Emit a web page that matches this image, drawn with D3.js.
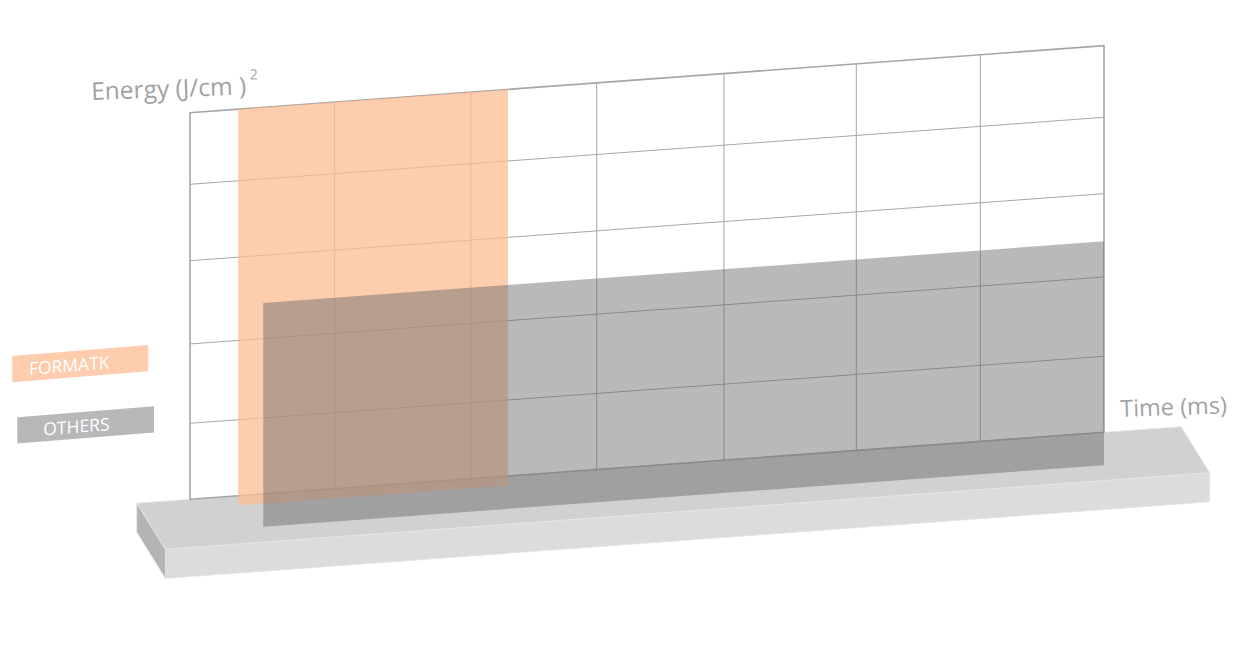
<!DOCTYPE html>
<html>
<head>
<meta charset="utf-8">
<script src="https://cdn.jsdelivr.net/npm/d3@7"></script>
<style>
  html, body { margin: 0; background: #fff; }
  svg { display: block; font-family: 'Open Sans', sans-serif; }
</style>
</head>
<body>
<svg id="chart" width="1236" height="670"></svg>
<script>
//

// grid lines, in axis units (read off the picture, not evenly spaced)
const timeGrid = [0, 1.108, 2.151, 3.115, 4.089, 5.103, 6.053, 7]
const energyGrid = [0, 0.983, 2.009, 3.086, 4.074, 5]

// the two translucent panels
const seriesNames = ['FORMATK', 'OTHERS']
const timeFrom = [0.369, 0.561]
const timeTo = [2.435, 7]
const energyFrom = [-0.125, -0.425]
const energyTo = [5, 2.47]

// the slab the chart stands on
const baseTime = [-0.408, 7.59]

const axisLabels = { energy: 'Energy (J/cm )', energySup: '2', time: 'Time (ms)' }

//

const colors = {
  panel: ['rgba(252,188,146,0.75)', 'rgba(103,103,107,0.46)'],
  legend: ['#fdcdad', '#b8b8bb'],
  slabTop: '#d1d1d3',
  slabFront: '#dcdcde',
  slabSide: '#b4b4b6',
  grid: '#a6a6a6',
  label: '#a2a2a2'
}

const svg = d3.select('#chart')

const x = d3.scaleLinear().domain([0, 7]).range([190, 1104])
const lift = d3.scaleLinear().domain([0, 5]).range([0, 386.6])
const floorY = 499.3
const tilt = 0.0733

function proj (t, e) {
  const px = x(t)
  return [px, floorY - tilt * (px - x(0)) - lift(e)]
}

const poly = d3.line().curve(d3.curveLinearClosed)

//

const depth = [28.7, 46.2]
const thick = 29
const bl = proj(baseTime[0], 0)
const br = proj(baseTime[1], 0)
const fl = [bl[0] + depth[0], bl[1] + depth[1]]
const fr = [br[0] + depth[0], br[1] + depth[1]]
const down = (p) => [p[0], p[1] + thick]

const slab = svg.append('g').attr('class', 'slab')
  .attr('stroke', '#e4e4e6').attr('stroke-width', 0.8)

slab.append('path').attr('fill', colors.slabTop).attr('d', poly([bl, br, fr, fl]))
slab.append('path').attr('fill', colors.slabFront).attr('d', poly([fl, fr, down(fr), down(fl)]))
slab.append('path').attr('fill', colors.slabSide).attr('d', poly([bl, fl, down(fl), down(bl)]))

//

const grid = svg.append('g').attr('class', 'grid')

grid.append('path')
  .attr('fill', '#fff')
  .attr('d', poly([proj(0, 0), proj(7, 0), proj(7, 5), proj(0, 5)]))

grid.selectAll('.vline')
  .data(timeGrid.slice(1, -1))
  .enter().append('line')
  .attr('class', 'vline')
  .attr('x1', (d) => proj(d, 0)[0])
  .attr('y1', (d) => proj(d, 0)[1])
  .attr('x2', (d) => proj(d, 5)[0])
  .attr('y2', (d) => proj(d, 5)[1])
  .attr('stroke', colors.grid)
  .attr('stroke-width', 1)

grid.selectAll('.hline')
  .data(energyGrid.slice(1, -1))
  .enter().append('line')
  .attr('class', 'hline')
  .attr('x1', (d) => proj(0, d)[0])
  .attr('y1', (d) => proj(0, d)[1])
  .attr('x2', (d) => proj(7, d)[0])
  .attr('y2', (d) => proj(7, d)[1])
  .attr('stroke', colors.grid)
  .attr('stroke-width', 1)

grid.append('path')
  .attr('fill', 'none')
  .attr('stroke', colors.grid)
  .attr('stroke-width', 1.6)
  .attr('d', poly([proj(0, 0), proj(7, 0), proj(7, 5), proj(0, 5)]))

//

svg.append('g').attr('class', 'panels')
  .selectAll('path')
  .data(seriesNames)
  .enter().append('path')
  .attr('fill', (d, i) => colors.panel[i])
  .attr('d', (d, i) => poly([
    proj(timeFrom[i], energyFrom[i]),
    proj(timeTo[i], energyFrom[i]),
    proj(timeTo[i], energyTo[i]),
    proj(timeFrom[i], energyTo[i])
  ]))

//

const legendPos = [[12.3, 356], [17.3, 417.3]]
const legend = svg.append('g').attr('class', 'legend')
  .selectAll('g')
  .data(seriesNames)
  .enter().append('g')
  .attr('transform', (d, i) => 'translate(' + legendPos[i] + ') skewY(-4.6)')

legend.append('rect')
  .attr('width', (d, i) => i === 0 ? 136 : 136.7)
  .attr('height', 26.3)
  .attr('fill', (d, i) => colors.legend[i])

legend.append('text')
  .attr('x', (d, i) => 109.5 - legendPos[i][0])
  .attr('y', 20.3)
  .attr('text-anchor', 'end')
  .attr('fill', '#fff')
  .attr('font-size', 17.5)
  .text((d) => d)

//

const energyLabel = svg.append('text')
  .attr('x', 91.5)
  .attr('y', 100)
  .attr('fill', colors.label)
  .attr('font-size', 24.5)
  .attr('transform', 'rotate(-2 91.5 100)')
energyLabel.append('tspan').text(axisLabels.energy)
energyLabel.append('tspan')
  .attr('dx', 4)
  .attr('dy', -15)
  .attr('font-size', 14)
  .text(axisLabels.energySup)

svg.append('text')
  .attr('x', 1120.5)
  .attr('y', 417)
  .attr('fill', colors.label)
  .attr('font-size', 23.5)
  .attr('transform', 'rotate(-2 1120.5 417)')
  .text(axisLabels.time)
</script>
</body>
</html>
